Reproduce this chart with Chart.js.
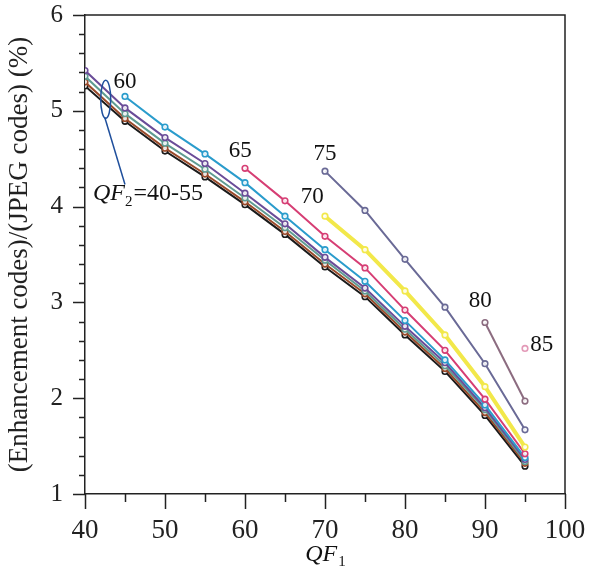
<!DOCTYPE html>
<html>
<head>
<meta charset="utf-8">
<script src="https://cdn.jsdelivr.net/npm/chart.js@4.4.1/dist/chart.umd.min.js"></script>
<style>
  html, body { margin: 0; padding: 0; background: #fff; }
  #wrap { width: 602px; height: 581px; position: relative; }
  .fontwarm { position: absolute; left: 0; top: 0; font-family: 'Liberation Serif'; font-size: 20px; color: #fff; opacity: 0.01; }
</style>
</head>
<body>
<span class="fontwarm">QF 0123456789</span><span class="fontwarm" style="font-style:italic">QF</span>
<div id="wrap"><canvas id="chart" width="602" height="581"></canvas></div>
<script>
// ================= DATA =================
const qf1 = [40, 45, 50, 55, 60, 65, 70, 75, 80, 85, 90, 95];

// QF2 = 40..55 start at QF1 = 40
const qf2_40 = [5.26, 4.89, 4.58, 4.31, 4.02, 3.71, 3.37, 3.06, 2.66, 2.28, 1.82, 1.29];
const qf2_45 = [5.30, 4.92, 4.61, 4.34, 4.05, 3.74, 3.40, 3.09, 2.69, 2.31, 1.85, 1.32];
const qf2_50 = [5.36, 4.97, 4.66, 4.39, 4.09, 3.78, 3.44, 3.12, 2.72, 2.34, 1.88, 1.34];
const qf2_55 = [5.42, 5.03, 4.72, 4.45, 4.14, 3.82, 3.47, 3.15, 2.75, 2.37, 1.90, 1.36];
// later QF2 values start where QF1 = QF2
const qf2_60 = [5.15, 4.83, 4.55, 4.25, 3.90, 3.55, 3.22, 2.81, 2.40, 1.93, 1.38];
const qf2_65 = [4.40, 4.06, 3.69, 3.36, 2.92, 2.50, 1.99, 1.42];
const qf2_70 = [3.90, 3.55, 3.12, 2.66, 2.12, 1.49];
const qf2_75 = [4.37, 3.96, 3.45, 2.95, 2.36, 1.67];
const qf2_80 = [2.79, 1.97];
const qf2_85 = [2.52];

// text labels next to the curves
const curveLabels = ["60", "65", "70", "75", "80", "85"];
const curveLabelX = [45.0, 59.4, 68.4, 70.0, 89.4, 97.1];
const curveLabelY = [5.30, 4.58, 4.105, 4.55, 3.01, 2.56];

// ================= HELPERS =================
function pts(startQF, values) {
    const i0 = qf1.indexOf(startQF);
    return values.map((v, i) => ({ x: qf1[i0 + i], y: v }));
}

function series(label, startQF, values, color, width) {
    return {
        label,
        data: pts(startQF, values),
        borderColor: color,
        backgroundColor: "#fff",
        pointBorderColor: color,
        pointBackgroundColor: "rgba(255,255,255,0.85)",
        pointRadius: 2.8,
        pointBorderWidth: 1.6,
        borderWidth: width || 2,
        tension: 0
    };
}

const serif = "'Liberation Serif'";

// ================= TICKS + ANNOTATIONS =================
const annotate = {
    id: "annotate",
    afterDraw(chart) {
        const { ctx, chartArea: a, scales } = chart;
        const xs = scales.x, ys = scales.y;
        ctx.save();

        // frame (top / right)
        ctx.strokeStyle = "#222";
        ctx.lineWidth = 1.5;
        ctx.beginPath();
        ctx.moveTo(a.left, a.top);
        ctx.lineTo(a.right, a.top);
        ctx.lineTo(a.right, a.bottom);
        ctx.stroke();

        // x ticks (outside, major every 10)
        ctx.beginPath();
        for (let v = 40; v <= 100; v += 5) {
            const x = Math.round(xs.getPixelForValue(v)) + 0.5;
            ctx.moveTo(x, a.bottom);
            ctx.lineTo(x, a.bottom + (v % 10 === 0 ? 15 : 8));
        }
        // y ticks (outside, major every 1)
        for (let i = 0; i <= 25; i++) {
            const v = 1 + i * 0.2;
            const y = Math.round(ys.getPixelForValue(v)) + 0.5;
            ctx.moveTo(a.left, y);
            ctx.lineTo(a.left - (i % 5 === 0 ? 12 : 6), y);
        }
        ctx.stroke();

        // curve labels
        ctx.fillStyle = "#111";
        ctx.font = "23px " + serif;
        ctx.textAlign = "center";
        ctx.textBaseline = "middle";
        curveLabels.forEach((t, i) => {
            ctx.fillText(t, xs.getPixelForValue(curveLabelX[i]), ys.getPixelForValue(curveLabelY[i]));
        });

        // ellipse marking QF2 = 40-55 group
        const ex = xs.getPixelForValue(42.59), ey = ys.getPixelForValue(5.12);
        ctx.strokeStyle = "#1f4f9c";
        ctx.lineWidth = 1.5;
        ctx.beginPath();
        ctx.ellipse(ex, ey, 5, 19, 0, 0, Math.PI * 2);
        ctx.stroke();
        ctx.beginPath();
        ctx.moveTo(ex - 1, ey + 18);
        ctx.lineTo(xs.getPixelForValue(45.0), ys.getPixelForValue(4.23));
        ctx.stroke();

        // "QF2=40-55"
        let px = xs.getPixelForValue(41.0);
        const py = ys.getPixelForValue(4.13);
        ctx.fillStyle = "#111";
        ctx.textAlign = "left";
        ctx.textBaseline = "middle";
        ctx.font = "italic 24px " + serif;
        ctx.fillText("QF", px, py);
        px += ctx.measureText("QF").width;
        ctx.font = "15px " + serif;
        ctx.fillText("2", px, py + 8);
        px += ctx.measureText("2").width + 1;
        ctx.font = "24px " + serif;
        ctx.fillText("=40-55", px, py);

        // x title "QF1"
        const cx = (a.left + a.right) / 2;
        const ty = 555;
        ctx.font = "italic 24px " + serif;
        const w1 = ctx.measureText("QF").width;
        ctx.font = "15px " + serif;
        const w2 = ctx.measureText("1").width;
        const sx = cx - (w1 + w2) / 2;
        ctx.font = "italic 24px " + serif;
        ctx.fillText("QF", sx, ty);
        ctx.font = "15px " + serif;
        ctx.fillText("1", sx + w1 + 1, ty + 7);

        ctx.restore();
    }
};

// ================= CHART =================
function drawChart() {
    const ctx = document.getElementById("chart");

    new Chart(ctx, {
        type: "line",
        data: {
            datasets: [
                series("QF2=85", 95, qf2_85, "#e39ab8"),
                series("QF2=80", 90, qf2_80, "#8c6c80"),
                series("QF2=75", 70, qf2_75, "#6a6a96"),
                series("QF2=70", 70, qf2_70, "#f2e84a", 4),
                series("QF2=65", 60, qf2_65, "#d63e74"),
                series("QF2=60", 45, qf2_60, "#2a9ccc"),
                series("QF2=55", 40, qf2_55, "#6a4c98"),
                series("QF2=50", 40, qf2_50, "#5f9c92"),
                series("QF2=45", 40, qf2_45, "#9a4a2a"),
                series("QF2=40", 40, qf2_40, "#1a1a1a")
            ]
        },
        options: {
            responsive: false,
            animation: false,
            layout: { padding: { top: 15, right: 37, left: 0, bottom: 0 } },
            plugins: {
                legend: { display: false },
                tooltip: { enabled: false }
            },
            scales: {
                x: {
                    type: "linear",
                    min: 40,
                    max: 100,
                    afterFit(s) { s.height = 87; s.paddingLeft = 0; s.paddingRight = 0; },
                    ticks: {
                        stepSize: 10,
                        autoSkip: false,
                        maxRotation: 0,
                        color: "#222",
                        padding: 21,
                        font: { family: serif, size: 27 }
                    },
                    grid: { display: false, drawTicks: false },
                    border: { display: true, color: "#222", width: 1.5 },
                    title: { display: false }
                },
                y: {
                    min: 1,
                    max: 6,
                    afterFit(s) { s.width = 85; s.paddingTop = 0; s.paddingBottom = 0; },
                    ticks: {
                        stepSize: 1,
                        autoSkip: false,
                        color: "#222",
                        padding: 22,
                        font: { family: serif, size: 25 }
                    },
                    grid: { display: false, drawTicks: false },
                    border: { display: true, color: "#222", width: 1.5 },
                    title: {
                        display: true,
                        text: "(Enhancement codes)/(JPEG codes) (%)",
                        color: "#222",
                        font: { family: serif, size: 27 },
                        padding: { top: 4, bottom: 0 }
                    }
                }
            }
        },
        plugins: [annotate]
    });
}

// ================= START =================
Promise.all([
    document.fonts.load("24px 'Liberation Serif'"),
    document.fonts.load("italic 24px 'Liberation Serif'")
]).catch(() => {}).then(drawChart);
</script>
</body>
</html>
